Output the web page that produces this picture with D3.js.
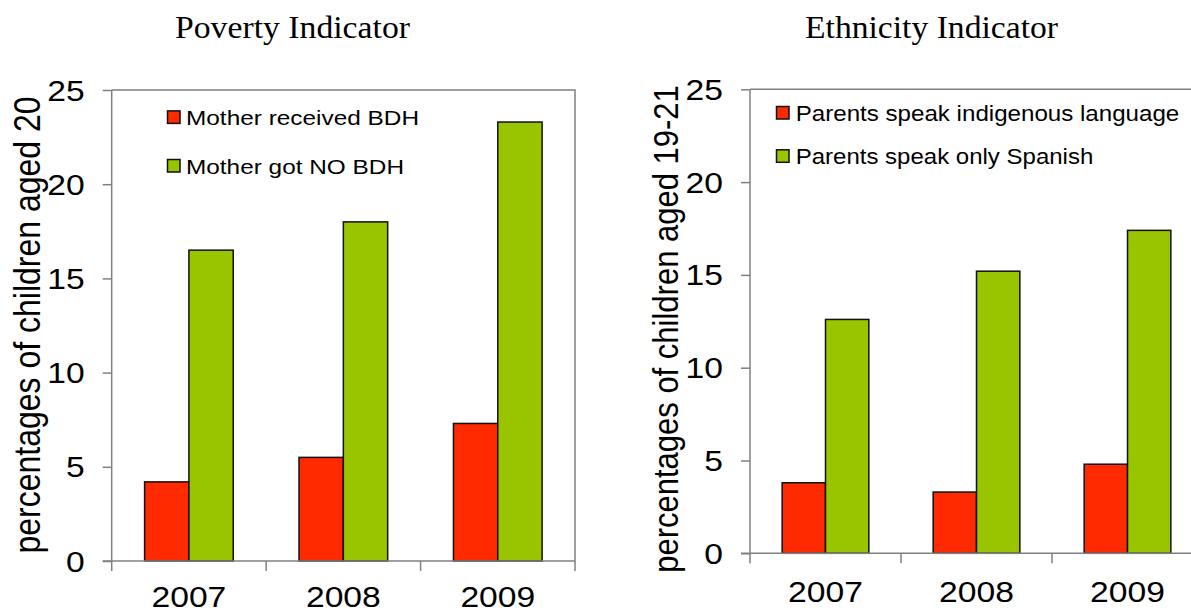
<!DOCTYPE html>
<html>
<head>
<meta charset="utf-8">
<script src="https://cdn.jsdelivr.net/npm/d3@7"></script>
<style>
  html, body { margin: 0; padding: 0; background: #fff; }
  svg { display: block; }
  text { font-family: "Liberation Sans", Arial, sans-serif; fill: #000; }
  .title { font-family: "Liberation Serif", "Times New Roman", serif; }
</style>
</head>
<body>
<svg id="chart" width="1191" height="613"></svg>
<script>
// Shared categories and axis ticks
const years = ["2007", "2008", "2009"];
const yTicks = [0, 5, 10, 15, 20, 25];

// Poverty panel
const povertyTitle = "Poverty Indicator";
const povertyYLabel = "percentages of children aged 20";
const povertySeriesNames = ["Mother received BDH", "Mother got NO BDH"];
const motherReceivedBDH = [4.2, 5.5, 7.3];
const motherNoBDH = [16.5, 18.0, 23.3];

// Ethnicity panel
const ethnicityTitle = "Ethnicity Indicator";
const ethnicityYLabel = "percentages of children aged 19-21";
const ethnicitySeriesNames = ["Parents speak indigenous language", "Parents speak only Spanish"];
const parentsIndigenous = [3.8, 3.3, 4.8];
const parentsSpanish = [12.6, 15.2, 17.4];

const seriesColors = ["#ff2a00", "#99c400"];
const SX = 1.16;        // horizontal stretch applied to sans-serif labels
const svg = d3.select("#chart");

function drawPanel(p) {
  const g = svg.append("g");
  const x = d3.scaleBand().domain(years).range([p.left, p.right]);
  const y = d3.scaleLinear().domain([0, 25]).range([p.bottom, p.top]);
  const inner = d3.scaleBand().domain([0, 1]).range([0, x.bandwidth()])
    .paddingInner(0).paddingOuter(0.742);

  // plot frame (top and right edges)
  g.append("path")
    .attr("d", `M${p.left},${p.top}H${p.right}V${p.bottom}`)
    .attr("fill", "none").attr("stroke", "#808080").attr("stroke-width", 1.5);

  // bars
  const rows = years.map((yr, i) => ({ yr, vals: [p.series[0][i], p.series[1][i]] }));
  g.selectAll("g.cat").data(rows).join("g").attr("class", "cat")
    .attr("transform", d => `translate(${x(d.yr)},0)`)
    .selectAll("rect").data(d => d.vals.map((v, k) => ({ v, k }))).join("rect")
    .attr("x", d => inner(d.k))
    .attr("width", inner.bandwidth())
    .attr("y", d => y(d.v))
    .attr("height", d => y(0) - y(d.v))
    .attr("fill", d => seriesColors[d.k])
    .attr("stroke", "#111").attr("stroke-width", 1.5);

  // y axis
  const yAxis = g.append("g").attr("transform", `translate(${p.left},0)`)
    .call(d3.axisLeft(y).tickValues(yTicks).tickSize(9).tickFormat(""));
  yAxis.selectAll("path, line").attr("stroke", "#808080").attr("stroke-width", 1.5);
  yAxis.select("path").attr("d", `M0,${p.top}V${p.bottom}`);

  g.selectAll("text.ytick").data(yTicks).join("text").attr("class", "ytick")
    .attr("transform", d => `translate(${p.left - 27},${y(d) + 10.5}) scale(${SX},1)`)
    .attr("text-anchor", "end").style("font-size", "29px").text(d => d);

  // x axis
  const xAxis = g.append("g").attr("transform", `translate(0,${p.bottom})`)
    .call(d3.axisBottom(x).tickSize(10).tickFormat(""));
  xAxis.selectAll(".tick").remove();
  xAxis.select("path").attr("d", `M${p.left - 9},0H${p.right}`)
    .attr("stroke", "#808080").attr("stroke-width", 1.5);
  const bounds = years.map(d => x(d)).concat([p.right]);
  xAxis.selectAll("line.sep").data(bounds).join("line").attr("class", "sep")
    .attr("x1", d => d).attr("x2", d => d).attr("y1", 0).attr("y2", 10)
    .attr("stroke", "#808080").attr("stroke-width", 1.5);

  g.selectAll("text.xtick").data(years).join("text").attr("class", "xtick")
    .attr("transform", d => `translate(${x(d) + x.bandwidth() / 2},${p.xLabelY}) scale(${SX},1)`)
    .attr("text-anchor", "middle").style("font-size", "29px").text(d => d);

  // y axis title
  g.append("text")
    .attr("transform", `translate(${p.yTitleX},${p.yTitleY}) scale(${SX},1) rotate(-90)`)
    .attr("text-anchor", "middle").style("font-size", `${p.yTitleFont}px`).text(p.yLabel);

  // panel title
  g.append("text").attr("class", "title")
    .attr("x", p.titleX).attr("y", 38)
    .attr("textLength", p.titleW).attr("lengthAdjust", "spacingAndGlyphs")
    .style("font-size", "32px").text(p.title);

  // legend
  const leg = g.selectAll("g.leg").data(p.names).join("g").attr("class", "leg")
    .attr("transform", (d, i) => `translate(${p.legX},${p.legY + i * p.legGap})`);
  leg.append("rect").attr("x", 0).attr("y", -6.5).attr("width", 12.5).attr("height", 12.5)
    .attr("fill", (d, i) => seriesColors[i]).attr("stroke", "#111").attr("stroke-width", 1.5);
  leg.append("text").attr("x", p.legTextDx).attr("y", 7.5)
    .attr("textLength", (d, i) => p.legW[i]).attr("lengthAdjust", "spacingAndGlyphs")
    .style("font-size", `${p.legFont}px`).text(d => d);
}

drawPanel({
  left: 111.7, right: 575, top: 90, bottom: 561,
  series: [motherReceivedBDH, motherNoBDH], names: povertySeriesNames,
  yLabel: povertyYLabel, yTitleX: 40, yTitleY: 325, yTitleFont: 32, xLabelY: 607,
  title: povertyTitle, titleX: 175, titleW: 235,
  legX: 167.5, legY: 117.4, legGap: 48.6, legTextDx: 18.5, legW: [233, 218], legFont: 21
});

drawPanel({
  left: 750, right: 1203, top: 89.3, bottom: 553.3,
  series: [parentsIndigenous, parentsSpanish], names: ethnicitySeriesNames,
  yLabel: ethnicityYLabel, yTitleX: 678, yTitleY: 329, yTitleFont: 31, xLabelY: 601.7,
  title: ethnicityTitle, titleX: 805, titleW: 253,
  legX: 776.5, legY: 113, legGap: 43.3, legTextDx: 19.2, legW: [383.6, 297.6], legFont: 22
});
</script>
</body>
</html>
